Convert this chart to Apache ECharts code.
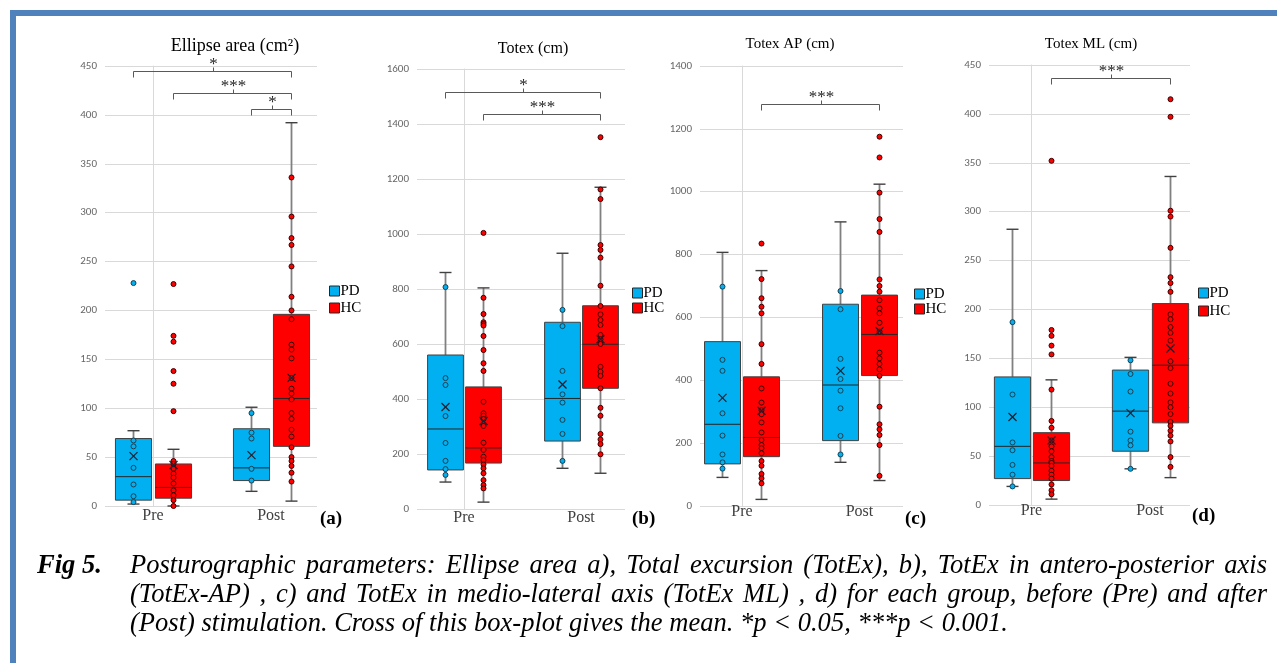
<!DOCTYPE html>
<html><head><meta charset="utf-8">
<script src="https://cdn.jsdelivr.net/npm/echarts@6/dist/echarts.min.js"></script>
<style>html,body{margin:0;padding:0;background:#fff;}#c{width:1277px;height:663px;}</style>
</head><body><div id="c"></div>
<script>
// ---------------- DATA ----------------
const phases = ['Pre', 'Post'];
const groups = ['PD', 'HC'];
// box stats per phase: [min, q1, median, q3, max, mean]
// (a) Ellipse area
const ellipseAxis = [0, 450, 50];
const ellipsePD_box = [[2, 6, 30, 69, 77, 51], [15, 26, 39, 79, 101, 52]];
const ellipseHC_box = [[0, 8, 19, 43, 58, 42], [5, 61, 110, 196, 392, 131]];
const ellipsePD_pre = [228, 67, 61, 39, 22, 10, 4];
const ellipsePD_post = [95, 75, 69, 38, 26];
const ellipseHC_pre = [227, 174, 168, 138, 125, 97, 46, 43, 38, 33, 29, 23, 16, 11, 6, 0];
const ellipseHC_post = [336, 296, 274, 267, 245, 214, 200, 191, 165, 160, 151, 131, 120, 115, 109, 95, 89, 78, 71, 60, 50, 46, 41, 34, 25];
const ellipseBrackets = [[0, 0, 1, 1, 445], [0, 1, 1, 1, 422], [1, 0, 1, 1, 406]];
const ellipseStars = ['*', '***', '*'];
// (b) Totex
const totexAxis = [0, 1600, 200];
const totexPD_box = [[98, 142, 291, 560, 860, 371], [148, 247, 402, 679, 930, 453]];
const totexHC_box = [[25, 167, 222, 444, 804, 320], [130, 439, 599, 739, 1170, 617]];
const totexPD_pre = [807, 476, 451, 338, 240, 175, 145, 124];
const totexPD_post = [724, 665, 502, 417, 387, 324, 273, 175];
const totexHC_pre = [1004, 768, 709, 679, 673, 667, 629, 578, 530, 502, 390, 348, 339, 327, 302, 241, 215, 190, 178, 162, 148, 130, 105, 87, 75];
const totexHC_post = [1352, 1162, 1127, 960, 942, 914, 812, 738, 708, 687, 669, 633, 617, 600, 517, 499, 484, 439, 368, 339, 273, 253, 236, 199];
const totexBrackets = [[0, 0, 1, 1, 1516], [0, 1, 1, 1, 1436]];
const totexStars = ['*', '***'];
// (c) Totex AP
const apAxis = [0, 1400, 200];
const apPD_box = [[91, 134, 260, 523, 807, 344], [139, 208, 385, 642, 904, 430]];
const apHC_box = [[21, 157, 218, 411, 749, 303], [81, 415, 546, 671, 1024, 557]];
const apPD_pre = [698, 465, 430, 295, 224, 164, 139, 119];
const apPD_post = [684, 626, 468, 404, 367, 311, 223, 164];
const apHC_pre = [835, 722, 661, 634, 613, 515, 452, 374, 329, 305, 292, 266, 234, 210, 194, 184, 168, 143, 128, 102, 88, 72];
const apHC_post = [1175, 1109, 997, 913, 872, 721, 700, 682, 655, 629, 613, 583, 555, 488, 470, 452, 435, 414, 316, 260, 244, 226, 194, 96];
const apBrackets = [[0, 1, 1, 1, 1279]];
const apStars = ['***'];
// (d) Totex ML
const mlAxis = [0, 450, 50];
const mlPD_box = [[19, 27, 60, 131, 282, 90], [37, 55, 96, 138, 151, 94]];
const mlHC_box = [[6, 25, 43, 74, 128, 66], [28, 84, 143, 206, 336, 160]];
const mlPD_pre = [187, 113, 64, 56, 41, 31, 19];
const mlPD_post = [148, 134, 116, 75, 66, 61, 37];
const mlHC_pre = [352, 179, 173, 163, 154, 118, 86, 79, 66, 60, 55, 49, 45, 43, 40, 35, 31, 27, 21, 15, 11];
const mlHC_post = [415, 397, 301, 295, 263, 233, 227, 218, 195, 190, 182, 176, 168, 147, 140, 124, 114, 105, 100, 93, 85, 81, 76, 71, 65, 49, 39];
const mlBrackets = [[0, 1, 1, 1, 437]];
const mlStars = ['***'];

const titles = ['Ellipse area (cm²)', 'Totex (cm)', 'Totex AP (cm)', 'Totex ML (cm)'];
const tags = ['(a)', '(b)', '(c)', '(d)'];
const captionHead = 'Fig 5.';
const captionLines = [
  'Posturographic parameters: Ellipse area a), Total excursion (TotEx), b), TotEx in antero-posterior axis',
  '(TotEx-AP) , c) and TotEx in medio-lateral axis (TotEx ML) , d) for each group, before (Pre) and after',
  '(Post) stimulation. Cross of this box-plot gives the mean. *p < 0.05, ***p < 0.001.'
];

// ---------------- LAYOUT ----------------
const SERIF = '"Liberation Serif"';
const colors = ['#00b0f0', '#ff0000'];
const darks = ['#1d3f50', '#3d0000'];
const panels = [
  { axis: ellipseAxis, box: [ellipsePD_box, ellipseHC_box], pts: [[ellipsePD_pre, ellipsePD_post], [ellipseHC_pre, ellipseHC_post]], br: ellipseBrackets, stars: ellipseStars,
    grid: { left: 105, top: 66, width: 212, height: 440 }, xr: [-0.407, 1.39], lm: 2,
    title: [235, 46, 18], tag: [320, 519], legend: [329, 283.5, 2] },
  { axis: totexAxis, box: [totexPD_box, totexHC_box], pts: [[totexPD_pre, totexPD_post], [totexHC_pre, totexHC_post]], br: totexBrackets, stars: totexStars,
    grid: { left: 417, top: 69, width: 208, height: 440 }, xr: [-0.402, 1.376], lm: 1,
    title: [533, 49, 16], tag: [632, 519], legend: [632, 285.5, 0] },
  { axis: apAxis, box: [apPD_box, apHC_box], pts: [[apPD_pre, apPD_post], [apHC_pre, apHC_post]], br: apBrackets, stars: apStars,
    grid: { left: 700, top: 66, width: 203, height: 440 }, xr: [-0.357, 1.37], lm: -2,
    title: [790, 44, 15], tag: [905, 519], legend: [914, 286.5, 0] },
  { axis: mlAxis, box: [mlPD_box, mlHC_box], pts: [[mlPD_pre, mlPD_post], [mlHC_pre, mlHC_post]], br: mlBrackets, stars: mlStars,
    grid: { left: 989, top: 65, width: 201, height: 440 }, xr: [-0.359, 1.338], lm: -2,
    title: [1091, 44, 15], tag: [1192, 516], legend: [1198, 285.5, 3] }
];
const OFF = 0.166, HW = 0.153;

function boxRenderer(gi, ptsByPhase) {
  const color = colors[gi], dark = darks[gi];
  return function (params, api) {
    const ph = api.value(0);
    const unit = api.size([1, 0])[0];
    const cx = Math.round(api.coord([ph, 0])[0] + (gi === 0 ? -1 : 1) * OFF * unit) + 0.5;
    const hw = HW * unit;
    const y = i => api.coord([ph, api.value(i)])[1];
    const yMin = y(1), yQ1 = y(2), yMed = y(3), yQ3 = y(4), yMax = y(5), yMean = y(6);
    const ch = [];
    const ws = { stroke: '#808080', lineWidth: 1.8 };
    const cs = { stroke: '#404040', lineWidth: 1.4 };
    ch.push({ type: 'line', shape: { x1: cx, y1: yQ3, x2: cx, y2: yMax }, style: ws });
    ch.push({ type: 'line', shape: { x1: cx, y1: yQ1, x2: cx, y2: yMin }, style: ws });
    ch.push({ type: 'line', shape: { x1: cx - 6, y1: yMax, x2: cx + 6, y2: yMax }, style: cs });
    ch.push({ type: 'line', shape: { x1: cx - 6, y1: yMin, x2: cx + 6, y2: yMin }, style: cs });
    ch.push({ type: 'rect', shape: { x: cx - hw, y: yQ3, width: 2 * hw, height: yQ1 - yQ3 }, style: { fill: color, stroke: '#404040', lineWidth: 1 } });
    ch.push({ type: 'line', shape: { x1: cx - hw, y1: yMed, x2: cx + hw, y2: yMed }, style: { stroke: '#262626', lineWidth: 1 } });
    ptsByPhase[ph].forEach(function (v) {
      ch.push({ type: 'circle', shape: { cx: cx, cy: api.coord([ph, v])[1], r: 2.5 }, style: { fill: color, stroke: dark, lineWidth: 1 } });
    });
    const m = 4;
    const ms = { stroke: '#1f1f2f', lineWidth: 1.3 };
    ch.push({ type: 'line', shape: { x1: cx - m, y1: yMean - m, x2: cx + m, y2: yMean + m }, style: ms });
    ch.push({ type: 'line', shape: { x1: cx - m, y1: yMean + m, x2: cx + m, y2: yMean - m }, style: ms });
    return { type: 'group', children: ch };
  };
}
function bracketRenderer(stars) {
  return function (params, api) {
    const unit = api.size([1, 0])[0];
    const xOf = (ph, g) => Math.round(api.coord([ph, 0])[0] + (g === 0 ? -1 : 1) * OFF * unit) + 0.5;
    const x1 = xOf(api.value(0), api.value(1)), x2 = xOf(api.value(2), api.value(3));
    const yy = Math.round(api.coord([0, api.value(4)])[1]) + 0.5;
    const xm = Math.round((x1 + x2) / 2) + 0.5;
    const st = { stroke: '#595959', lineWidth: 1, fill: 'none' };
    return { type: 'group', children: [
      { type: 'polyline', shape: { points: [[x1, yy + 6], [x1, yy], [x2, yy], [x2, yy + 6]] }, style: st },
      { type: 'line', shape: { x1: xm, y1: yy, x2: xm, y2: yy - 4 }, style: st },
      { type: 'text', x: xm, y: yy - 7, style: { text: stars[params.dataIndex], font: '17px ' + SERIF, fill: '#262626', align: 'center', verticalAlign: 'middle' } }
    ] };
  };
}

const grid = [], xAxis = [], yAxis = [], series = [], legend = [], graphic = [];
panels.forEach(function (p, i) {
  grid.push(Object.assign({}, p.grid));
  xAxis.push({ gridIndex: i, type: 'value', min: p.xr[0], max: p.xr[1],
    axisLine: { show: false }, axisTick: { show: false }, splitLine: { show: false },
    axisLabel: { customValues: [0, 1], formatter: v => phases[Math.round(v)], color: '#404040', fontFamily: 'Liberation Serif', fontSize: 16, margin: p.lm } });
  yAxis.push({ gridIndex: i, type: 'value', min: p.axis[0], max: p.axis[1], interval: p.axis[2],
    axisLine: { show: true, lineStyle: { color: '#d9d9d9' } }, axisTick: { show: false },
    splitLine: { lineStyle: { color: '#d9d9d9' } },
    axisLabel: { formatter: v => String(v), color: '#666', fontFamily: 'Carlito', fontSize: 11, margin: 8 } });
  groups.forEach(function (g, gi) {
    series.push({ type: 'custom', name: g, xAxisIndex: i, yAxisIndex: i, silent: true, z: 2,
      itemStyle: { color: colors[gi] },
      data: p.box[gi].map((v, ph) => [ph].concat(v)),
      renderItem: boxRenderer(gi, p.pts[gi]) });
  });
  series.push({ type: 'custom', name: 'sig' + i, xAxisIndex: i, yAxisIndex: i, silent: true, z: 3,
    data: p.br, renderItem: bracketRenderer(p.stars) });
  legend.push({ orient: 'vertical', left: p.legend[0], top: p.legend[1], padding: 0, itemGap: p.legend[2],
    itemWidth: 10, itemHeight: 10, icon: 'rect', selectedMode: false, data: groups,
    itemStyle: { borderColor: '#262626', borderWidth: 1 },
    textStyle: { fontFamily: 'Liberation Serif', fontSize: 15, color: '#000', lineHeight: 15, padding: [0, 0, 0, -4] } });
  graphic.push({ type: 'text', x: p.title[0], y: p.title[1], style: { text: titles[i], font: p.title[2] + 'px ' + SERIF, fill: '#000', align: 'center', verticalAlign: 'middle' } });
  graphic.push({ type: 'text', x: p.tag[0], y: p.tag[1], style: { text: tags[i], font: 'bold 19px ' + SERIF, fill: '#000', align: 'left', verticalAlign: 'middle' } });
});

// frame
graphic.push({ type: 'rect', shape: { x: 10, y: 10, width: 1267, height: 6 }, style: { fill: '#4f81bd' } });
graphic.push({ type: 'rect', shape: { x: 10, y: 10, width: 6, height: 653 }, style: { fill: '#4f81bd' } });

// caption
const ctx = document.createElement('canvas').getContext('2d');
function measure(t, f) { ctx.font = f; return ctx.measureText(t).width; }
const capFont = 'italic 28px ' + SERIF;
const headFont = 'italic bold 28px ' + SERIF;
const capY = [566, 595, 624];
const capL = 130, capR = 1267;
const sx = 878 / measure(captionLines[2], capFont);
graphic.push({ type: 'text', x: 37, y: capY[0], scaleX: 65 / measure(captionHead, headFont), style: { text: captionHead, font: headFont, fill: '#000', verticalAlign: 'middle' } });
captionLines.forEach(function (line, li) {
  if (li === 2) {
    graphic.push({ type: 'text', x: capL, y: capY[li], scaleX: sx, style: { text: line, font: capFont, fill: '#000', verticalAlign: 'middle' } });
    return;
  }
  const words = line.split(' ');
  const ws = words.map(w => measure(w, capFont) * sx);
  const tot = ws.reduce((a, b) => a + b, 0);
  const gap = (capR - capL - tot) / (words.length - 1);
  let x = capL;
  words.forEach(function (w, k) {
    graphic.push({ type: 'text', x: x, y: capY[li], scaleX: sx, style: { text: w, font: capFont, fill: '#000', verticalAlign: 'middle' } });
    x += ws[k] + gap;
  });
});

const chart = echarts.init(document.getElementById('c'), null, { renderer: 'canvas', width: 1277, height: 663 });
chart.setOption({ animation: false, backgroundColor: '#fff', grid, xAxis, yAxis, series, legend, graphic });
</script></body></html>
